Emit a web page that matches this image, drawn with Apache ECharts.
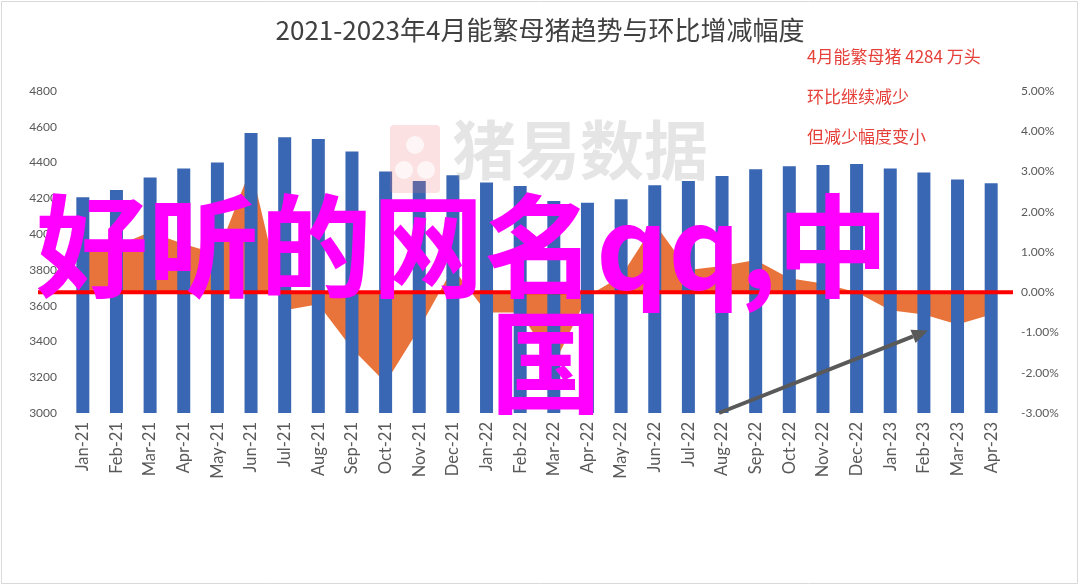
<!DOCTYPE html>
<html><head><meta charset="utf-8">
<script src="https://cdn.jsdelivr.net/npm/echarts@6/dist/echarts.min.js"></script>
<style>html,body{margin:0;padding:0;background:#fff}#c{width:1080px;height:586px}</style>
</head><body><div id="c"></div>
<script>
const categories = ['Jan-21','Feb-21','Mar-21','Apr-21','May-21','Jun-21','Jul-21','Aug-21','Sep-21','Oct-21','Nov-21','Dec-21',
  'Jan-22','Feb-22','Mar-22','Apr-22','May-22','Jun-22','Jul-22','Aug-22','Sep-22','Oct-22','Nov-22','Dec-22',
  'Jan-23','Feb-23','Mar-23','Apr-23'];
const sowStock = [4206,4247,4316,4367,4400,4565,4541,4531,4462,4350,4297,4329,
  4288,4269,4185,4176,4195,4273,4297,4325,4363,4380,4387,4392,
  4367,4344,4305,4284];
const momChange = [1.0,1.15,1.5,1.2,0.95,3.1,-0.45,-0.3,-1.4,-2.25,-0.9,0.6,
  -0.5,-0.5,-1.8,-0.1,0.4,1.7,0.55,0.65,0.8,0.35,0.22,0.0,
  -0.45,-0.55,-0.8,-0.55];
const leftTicks = {min:3000, max:4800, interval:200};
const rightTicks = {min:-3, max:5, interval:1};
const titleText = '2021-2023年4月能繁母猪趋势与环比增减幅度';
const notes = ['4月能繁母猪 4284 万头','环比继续减少','但减少幅度变小'];
const watermark = '猪易数据';
const overlayLine1 = '好听的网名qq,中';
const overlayLine2 = '国';

const CJK = '"Noto Sans CJK SC","Noto Sans",sans-serif';
const LAT = 'Lato,"Liberation Sans",sans-serif';
const chart = echarts.init(document.getElementById('c'));
chart.setOption({
  animation:false,
  backgroundColor:'#fff',
  title:{text:titleText,left:'center',top:12,textStyle:{fontFamily:CJK,fontSize:26,fontWeight:'normal',color:'#404040'}},
  grid:{left:66,right:72,top:91,bottom:173,containLabel:false},
  xAxis:{type:'category',data:categories,boundaryGap:true,
    axisLine:{lineStyle:{color:'#d9d9d9',width:1}},axisTick:{show:false},
    axisLabel:{rotate:90,fontFamily:LAT,fontSize:16.5,color:'#595959',margin:9,interval:0}},
  yAxis:[
    {type:'value',min:leftTicks.min,max:leftTicks.max,interval:leftTicks.interval,splitLine:{show:false},
     axisLine:{show:false},axisTick:{show:false},
     axisLabel:{fontFamily:LAT,fontSize:12,color:'#595959',margin:9,formatter:v=>String(v)}},
    {type:'value',min:rightTicks.min,max:rightTicks.max,interval:rightTicks.interval,splitLine:{show:false},
     axisLine:{show:false},axisTick:{show:false},
     axisLabel:{fontFamily:LAT,fontSize:12,color:'#595959',margin:13,
       formatter:v=>v.toFixed(2)+'%'}}
  ],
  series:[
    {type:'line',yAxisIndex:1,data:momChange,symbol:'none',z:1,
     lineStyle:{width:0},areaStyle:{color:'#E8743B',opacity:1,origin:0}},
    {type:'bar',yAxisIndex:0,data:sowStock,barWidth:13,z:2,itemStyle:{color:'#3A67B3'}}
  ]
});

const yZero = chart.convertToPixel({yAxisIndex:1}, 0);
const ax1 = chart.convertToPixel({xAxisIndex:0}, 'Aug-22') - 3;
const ay1 = chart.convertToPixel({yAxisIndex:1}, -3);
const ax2 = chart.convertToPixel({xAxisIndex:0}, 'Feb-23') + 4;
const ay2 = chart.convertToPixel({yAxisIndex:1}, -0.95);
const ang = Math.atan2(ay2-ay1, ax2-ax1);
const hl = 16, hw = 7;
const bx = ax2 - hl*Math.cos(ang), by = ay2 - hl*Math.sin(ang);
const px = -Math.sin(ang), py = Math.cos(ang);

chart.setOption({graphic:[
  {type:'rect',shape:{x:1.5,y:1.5,width:1076,height:582},style:{fill:'none',stroke:'#d9d9d9',lineWidth:1},z:0,silent:true},
  {type:'line',shape:{x1:38,y1:yZero,x2:1013,y2:yZero},style:{stroke:'#FF0000',lineWidth:4},z:50},
  {type:'line',shape:{x1:ax1,y1:ay1,x2:bx,y2:by},style:{stroke:'#595959',lineWidth:4},z:50},
  {type:'polygon',shape:{points:[[ax2,ay2],[bx+px*hw,by+py*hw],[bx-px*hw,by-py*hw]]},style:{fill:'#595959'},z:50},
  {type:'text',left:807,top:48,style:{text:notes[0],fontFamily:CJK,fontSize:17,fill:'#E5403A'},z:60},
  {type:'text',left:807,top:88,style:{text:notes[1],fontFamily:CJK,fontSize:17,fill:'#E5403A'},z:60},
  {type:'text',left:807,top:128,style:{text:notes[2],fontFamily:CJK,fontSize:17,fill:'#E5403A'},z:60},
  {type:'group',z:40,children:[
    {type:'rect',shape:{x:390,y:125,width:50,height:68,r:4},style:{fill:'rgba(235,120,120,0.22)'},z:40},
    {type:'circle',shape:{cx:415,cy:145,r:9},style:{fill:'rgba(255,255,255,0.7)'},z:41},
    {type:'circle',shape:{cx:404,cy:170,r:9},style:{fill:'rgba(255,255,255,0.7)'},z:41},
    {type:'circle',shape:{cx:426,cy:170,r:9},style:{fill:'rgba(255,255,255,0.7)'},z:41},
    {type:'text',left:452,top:118,style:{text:watermark,fontFamily:CJK,fontSize:64,fontWeight:'bold',fill:'rgba(170,170,170,0.3)'},z:41}
  ]},
  {type:'text',left:36,top:190,style:{text:overlayLine1,fontFamily:CJK,fontSize:112,fontWeight:'bold',fill:'#FF00FF'},z:100},
  {type:'text',left:490,top:306,style:{text:overlayLine2,fontFamily:CJK,fontSize:112,fontWeight:'bold',fill:'#FF00FF'},z:100}
]});
</script></body></html>
